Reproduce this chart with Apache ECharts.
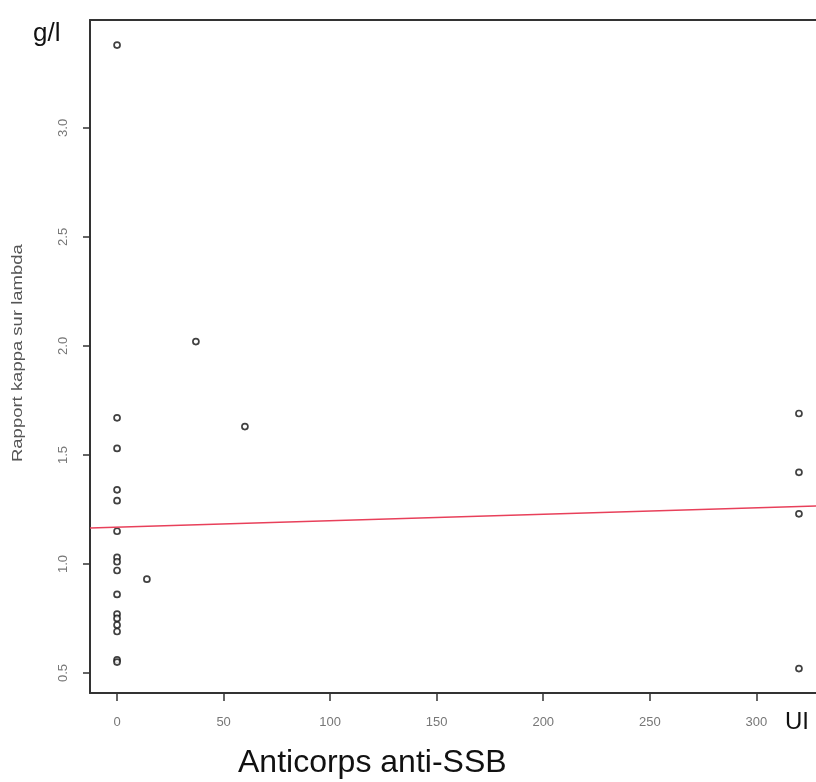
<!DOCTYPE html>
<html>
<head>
<meta charset="utf-8">
<script src="https://cdn.jsdelivr.net/npm/echarts@6/dist/echarts.min.js"></script>
<style>
  html, body { margin: 0; padding: 0; background: #fff; }
  #chart { width: 816px; height: 782px; }
</style>
</head>
<body>
<div id="chart"></div>
<script>
// anti-SSB (UI) vs kappa/lambda ratio
const antiSSB = [0, 0, 0, 0, 0, 0, 0, 0, 0, 0, 0, 0, 0, 0, 0, 0, 37, 60, 14, 320, 320, 320, 320];
const kappaLambda = [3.38, 1.67, 1.53, 1.34, 1.29, 1.15, 1.03, 1.01, 0.97, 0.86, 0.77, 0.75, 0.72, 0.69, 0.56, 0.55, 2.02, 1.63, 0.93, 1.69, 1.42, 1.23, 0.52];

// fitted line ends (left and right edge of the plot)
const fitX = [-12.7, 328];
const fitY = [1.165, 1.266];

const xTicks = [0, 50, 100, 150, 200, 250, 300];
const yTicks = [0.5, 1.0, 1.5, 2.0, 2.5, 3.0];

const xMin = -12.7, xMax = 328;
const yMin = 0.408, yMax = 3.495;

const chart = echarts.init(document.getElementById("chart"));

const labelFont = "'Liberation Sans', Arial, sans-serif";

chart.setOption({
  animation: false,
  backgroundColor: "#fff",
  grid: { left: 90, top: 20, right: 0, bottom: 89 },
  xAxis: [
    {
      type: "value",
      min: xMin,
      max: xMax,
      splitLine: { show: false },
      axisLine: { show: true, onZero: false, lineStyle: { color: "#333", width: 2 } },
      axisTick: { show: true, customValues: xTicks, length: 8, lineStyle: { color: "#333", width: 1.5 } },
      axisLabel: {
        customValues: xTicks,
        margin: 23,
        color: "#777",
        fontSize: 13,
        fontFamily: labelFont,
        formatter: (v) => String(v),
      },
    },
    {
      type: "value",
      position: "top",
      min: xMin,
      max: xMax,
      splitLine: { show: false },
      axisLine: { show: true, onZero: false, lineStyle: { color: "#333", width: 2 } },
      axisTick: { show: false },
      axisLabel: { show: false },
    },
  ],
  yAxis: {
    type: "value",
    min: yMin,
    max: yMax,
    splitLine: { show: false },
    axisLine: { show: true, onZero: false, lineStyle: { color: "#333", width: 2 } },
    axisTick: { show: true, customValues: yTicks, length: 7, lineStyle: { color: "#333", width: 1.5 } },
    axisLabel: {
      customValues: yTicks,
      rotate: 90,
      margin: 20,
      color: "#777",
      fontSize: 13,
      fontFamily: labelFont,
      formatter: (v) => v.toFixed(1),
    },
  },
  graphic: [
    {
      type: "text",
      left: 33,
      top: 21,
      style: { text: "g/l", fontSize: 26, fill: "#111", fontFamily: labelFont },
    },
    {
      type: "text",
      left: 785,
      top: 710,
      style: { text: "UI", fontSize: 24, fill: "#111", fontFamily: labelFont },
    },
    {
      type: "text",
      left: 238,
      top: 747,
      style: { text: "Anticorps anti-SSB", fontSize: 32, fill: "#111", fontFamily: labelFont },
    },
    {
      type: "text",
      x: 11,
      y: 462,
      rotation: Math.PI / 2,
      scaleX: 1.32,
      style: { text: "Rapport kappa sur lambda", fontSize: 14, fill: "#555", fontFamily: labelFont, textVerticalAlign: "top" },
    },
  ],
  series: [
    {
      type: "scatter",
      data: antiSSB.map((x, i) => [x, kappaLambda[i]]),
      symbol: "circle",
      symbolSize: 6,
      itemStyle: { color: "#fff", borderColor: "#111", borderWidth: 1.7 },
    },
    {
      type: "line",
      data: fitX.map((x, i) => [x, fitY[i]]),
      showSymbol: false,
      lineStyle: { color: "#e8405a", width: 1.5 },
    },
  ],
});
</script>
</body>
</html>
